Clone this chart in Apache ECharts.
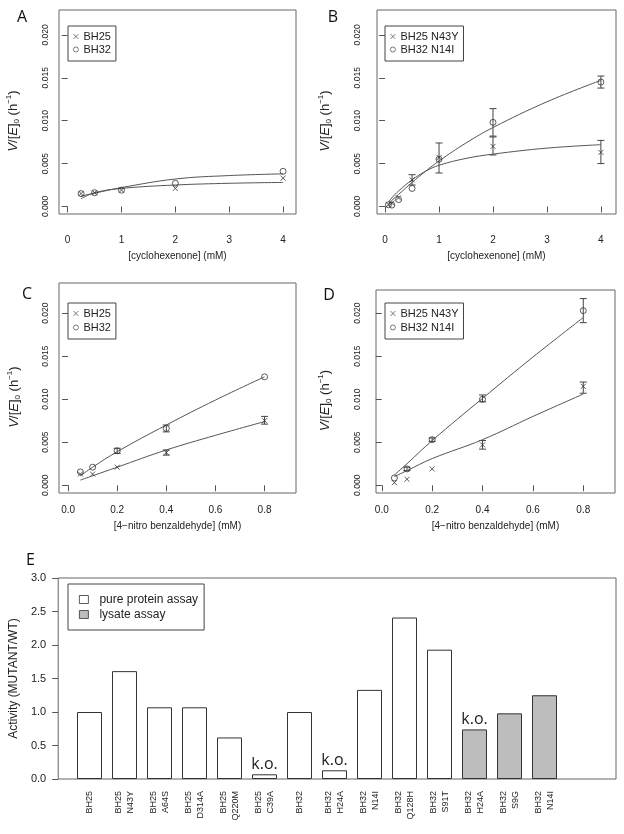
<!DOCTYPE html>
<html>
<head>
<meta charset="utf-8">
<script src="https://cdn.jsdelivr.net/npm/echarts@6/dist/echarts.min.js"></script>
<style>
  html, body { margin: 0; padding: 0; background: #fff; }
  #chart { width: 624px; height: 834px; }
</style>
</head>
<body>
<div id="chart"></div>
<script>
// A: cyclohexenone, wild types
const cycloConc = [0.25, 0.5, 1, 2, 4];
const aBH25 = [0.0015, 0.0016, 0.0019, 0.0021, 0.0033];
const aBH32 = [0.0015, 0.0016, 0.0019, 0.0027, 0.0041];
const aFitX = [0.25, 0.5, 1, 2, 3, 4];
const aFitBH25 = [0.0009, 0.0016, 0.0021, 0.0025, 0.0027, 0.0028];
const aFitBH32 = [0.0012, 0.00155, 0.0022, 0.0032, 0.0036, 0.0038];

// B: cyclohexenone, mutants
const cycloConcB = [0.0625, 0.125, 0.25, 0.5, 1, 2, 4];
const bN43Y = [0.0002, 0.0004, 0.0010, 0.0031, 0.0057, 0.0070, 0.0063];
const bN14I = [0.0002, 0.00016, 0.0008, 0.0021, 0.0055, 0.0098, 0.0145];
const bErrN43Y = [[0.5, 0.0025, 0.0037], [2, 0.0060, 0.0081], [4, 0.0050, 0.0077]];
const bErrN14I = [[1, 0.0039, 0.0074], [2, 0.0082, 0.0114], [4, 0.0138, 0.0152]];
const bFitX = [0.0625, 0.125, 0.25, 0.5, 0.75, 1, 1.5, 2, 3, 4];
const bFitN43Y = [0.0005, 0.0010, 0.0018, 0.0031, 0.0041, 0.0048, 0.0056, 0.0061, 0.0068, 0.0072];
const bFitN14I = [0.0003, 0.0007, 0.0014, 0.0028, 0.0041, 0.0053, 0.0074, 0.0092, 0.0122, 0.0147];

// C: 4-nitro benzaldehyde, wild types
const nitroConc = [0.05, 0.1, 0.2, 0.4, 0.8];
const cBH25 = [0.0013, 0.0013, 0.0021, 0.0038, 0.0075];
const cBH32 = [0.00155, 0.0021, 0.0040, 0.0066, 0.0126];
const cErrBH25 = [[0.4, 0.0035, 0.0041], [0.8, 0.0071, 0.0080]];
const cErrBH32 = [[0.2, 0.0037, 0.0043], [0.4, 0.0062, 0.0070]];
const nitroFitX = [0.05, 0.1, 0.2, 0.4, 0.6, 0.8];
const cFitBH25 = [0.0006, 0.0011, 0.0021, 0.0041, 0.0058, 0.0074];
const cFitBH32 = [0.0011, 0.0021, 0.0039, 0.0070, 0.0099, 0.0126];

// D: 4-nitro benzaldehyde, mutants
const dN43Y = [0.0003, 0.0007, 0.0019, 0.0047, 0.0115];
const dN14I = [0.00085, 0.0019, 0.0053, 0.0100, 0.0203];
const dErrN43Y = [[0.4, 0.0042, 0.0052], [0.8, 0.0107, 0.0120]];
const dErrN14I = [[0.1, 0.0017, 0.0021], [0.2, 0.0051, 0.0055], [0.4, 0.0097, 0.0105], [0.8, 0.0189, 0.0217]];
const dFitN43Y = [0.0010, 0.0017, 0.0031, 0.0053, 0.0080, 0.0106];
const dFitN14I = [0.0012, 0.0025, 0.0052, 0.0101, 0.0149, 0.0195];

// E: activity relative to wild type
const mutants = ['BH25', 'BH25\nN43Y', 'BH25\nA64S', 'BH25\nD314A', 'BH25\nQ220M', 'BH25\nC39A', 'BH32',
  'BH32\nH24A', 'BH32\nN14I', 'BH32\nQ128H', 'BH32\nS91T', 'BH32\nH24A', 'BH32\nS9G', 'BH32\nN14I'];
const pureValues = [1.00, 1.61, 1.07, 1.07, 0.62, 0.07, 1.00, 0.13, 1.33, 2.41, 1.93, '-', '-', '-'];
const lysateValues = ['-', '-', '-', '-', '-', '-', '-', '-', '-', '-', '-', 0.74, 0.98, 1.25];
const koMarks = ['', '', '', '', '', 'k.o.', '', 'k.o.', '', '', '', 'k.o.', '', ''];

const yTicks = [0, 0.005, 0.010, 0.015, 0.020];
const cycloTicks = [0, 1, 2, 3, 4];
const nitroTicks = [0, 0.2, 0.4, 0.6, 0.8];

const FONT = '"Liberation Sans", Arial, Helvetica, sans-serif';
const INK = '#222';
const LINE = '#555';
const CROSS = 'path://M0,0L10,10M10,0L0,10';

const chart = echarts.init(document.getElementById('chart'));

const zip = (xs, ys) => xs.map((x, i) => [x, ys[i]]);

function scatter(name, idx, xs, ys, cross) {
  return {
    name: name, type: 'scatter', xAxisIndex: idx, yAxisIndex: idx,
    data: zip(xs, ys),
    symbol: cross ? CROSS : 'circle',
    symbolSize: cross ? 5 : 6,
    itemStyle: { color: 'transparent', borderColor: '#333', borderWidth: 1 },
    z: 4
  };
}

function fit(idx, xs, ys) {
  return {
    name: 'fit', type: 'line', xAxisIndex: idx, yAxisIndex: idx,
    data: zip(xs, ys), smooth: 0.4, showSymbol: false, silent: true,
    lineStyle: { color: LINE, width: 1 }, z: 3
  };
}

function errorBars(idx, data) {
  return {
    type: 'custom', xAxisIndex: idx, yAxisIndex: idx, data: data, silent: true,
    encode: { x: 0, y: [1, 2] },
    renderItem(params, api) {
      const hi = api.coord([api.value(0), api.value(2)]);
      const lo = api.coord([api.value(0), api.value(1)]);
      const w = 3.5;
      const style = { stroke: '#444', lineWidth: 1 };
      return {
        type: 'group',
        children: [
          { type: 'line', shape: { x1: hi[0], y1: hi[1], x2: lo[0], y2: lo[1] }, style: style },
          { type: 'line', shape: { x1: hi[0] - w, y1: hi[1], x2: hi[0] + w, y2: hi[1] }, style: style },
          { type: 'line', shape: { x1: lo[0] - w, y1: lo[1], x2: lo[0] + w, y2: lo[1] }, style: style }
        ]
      };
    },
    z: 3
  };
}

function xAxisFor(idx, min, max, ticks, name, margin, gap, digits) {
  return {
    type: 'value', gridIndex: idx, min: min, max: max,
    axisLine: { show: false },
    axisTick: { length: 6, customValues: ticks, lineStyle: { color: LINE } },
    axisLabel: { customValues: ticks, margin: margin, fontSize: 10, color: INK, fontFamily: FONT,
      formatter: v => v.toFixed(digits) },
    splitLine: { show: false },
    name: name, nameLocation: 'middle', nameGap: gap,
    nameTextStyle: { fontSize: 10, color: INK, fontFamily: FONT }
  };
}

function yAxisFor(idx, min, max, margin, gap) {
  return {
    type: 'value', gridIndex: idx, min: min, max: max,
    axisLine: { show: false },
    axisTick: { length: 6, customValues: yTicks, lineStyle: { color: LINE } },
    axisLabel: { customValues: yTicks, rotate: 90, margin: margin, fontSize: 8.5, color: INK, fontFamily: FONT,
      formatter: v => v.toFixed(3) },
    splitLine: { show: false },
    name: '{i|V}/[{i|E}]{sub|0} (h{sup|\u22121})', nameLocation: 'middle', nameGap: gap,
    nameTextStyle: {
      fontSize: 13, lineHeight: 16, color: INK, fontFamily: FONT, padding: [0, 18, 0, 0],
      rich: {
        i: { fontSize: 13, fontStyle: 'italic', color: INK, fontFamily: FONT },
        sub: { fontSize: 8, verticalAlign: 'bottom', color: INK, fontFamily: FONT },
        sup: { fontSize: 8, verticalAlign: 'top', color: INK, fontFamily: FONT }
      }
    }
  };
}

function smallLegend(names, left, top, gap, pad) {
  return {
    data: names, orient: 'vertical', left: left, top: top, selectedMode: false,
    itemWidth: 5, itemHeight: 5, itemGap: gap, padding: pad,
    borderColor: '#444', borderWidth: 1,
    itemStyle: { borderWidth: 0.8 },
    textStyle: { fontSize: 11, lineHeight: 13, color: INK, fontFamily: FONT }
  };
}

const boxGrid = { show: true, borderColor: '#666', borderWidth: 1, backgroundColor: 'transparent' };

const barLabel = {
  show: true, position: 'top', distance: 2,
  fontSize: 16, color: INK, fontFamily: '"Open Sans", sans-serif',
  formatter: p => koMarks[p.dataIndex]
};

const option = {
  animation: false,
  backgroundColor: '#fff',
  grid: [
    Object.assign({ left: 59, top: 10, width: 237, height: 204 }, boxGrid),
    Object.assign({ left: 377, top: 10, width: 239, height: 204 }, boxGrid),
    Object.assign({ left: 59, top: 283, width: 237, height: 210 }, boxGrid),
    Object.assign({ left: 376, top: 290, width: 239, height: 203 }, boxGrid),
    Object.assign({ left: 57, top: 578, width: 559, height: 201 }, boxGrid),
    { left: 72, top: 578, width: 490, height: 201, show: false }
  ],
  xAxis: [
    xAxisFor(0, -0.16, 4.24, cycloTicks, '[cyclohexenone] (mM)', 21, 37, 0),
    xAxisFor(1, -0.15, 4.28, cycloTicks, '[cyclohexenone] (mM)', 21, 37, 0),
    xAxisFor(2, -0.037, 0.928, nitroTicks, '[4\u2212nitro benzaldehyde] (mM)', 12, 28, 1),
    xAxisFor(3, -0.023, 0.926, nitroTicks, '[4\u2212nitro benzaldehyde] (mM)', 12, 28, 1),
    { type: 'value', gridIndex: 4, show: false, min: 0, max: 1 },
    {
      type: 'category', gridIndex: 5, data: mutants,
      axisLine: { show: false }, axisTick: { show: false },
      axisLabel: { interval: 0, rotate: 90, margin: 12, fontSize: 9, lineHeight: 12, color: INK, fontFamily: FONT }
    }
  ],
  yAxis: [
    yAxisFor(0, -0.00088, 0.0229, 9, 38),
    yAxisFor(1, -0.00088, 0.0229, 15, 44),
    yAxisFor(2, -0.0009, 0.0235, 9, 37),
    yAxisFor(3, -0.0009, 0.0227, 14, 43),
    {
      type: 'value', gridIndex: 4, min: 0, max: 3, interval: 0.5,
      axisLine: { show: false },
      axisTick: { length: 6, lineStyle: { color: LINE } },
      axisLabel: { margin: 12, fontSize: 11, color: INK, fontFamily: FONT, formatter: v => v.toFixed(1) },
      splitLine: { show: false },
      name: 'Activity (MUTANT/WT)', nameLocation: 'middle', nameGap: 38,
      nameTextStyle: { fontSize: 12, color: INK, fontFamily: FONT }
    },
    { type: 'value', gridIndex: 5, min: 0, max: 3, show: false }
  ],
  legend: [
    smallLegend(['BH25', 'BH32'], 68, 26, 0, [4, 5, 5, 5]),
    smallLegend(['BH25 N43Y', 'BH32 N14I'], 385, 26, 0, [4, 5, 5, 5]),
    smallLegend(['BH25', 'BH32'], 68, 303, 1, [4, 5, 5, 5]),
    smallLegend(['BH25 N43Y', 'BH32 N14I'], 385, 303, 1, [4, 5, 5, 5]),
    {
      data: ['pure protein assay', 'lysate assay'], orient: 'vertical', left: 68, top: 584,
      selectedMode: false, icon: 'rect', itemWidth: 9, itemHeight: 8, itemGap: 0,
      padding: [8, 6, 8, 11], borderColor: '#444', borderWidth: 1,
      itemStyle: { borderWidth: 0.8 },
      textStyle: { fontSize: 12, lineHeight: 15, color: INK, fontFamily: FONT, padding: [0, 0, 0, 6] }
    }
  ],
  graphic: [
    ['A', 22, 17], ['B', 333, 17], ['C', 27, 294], ['D', 329, 295], ['E', 30.5, 560]
  ].map(([t, x, y]) => ({
    type: 'text', x: x, y: y,
    style: { text: t, fill: '#111', font: '16px "Open Sans", sans-serif', textAlign: 'center', textVerticalAlign: 'middle' }
  })),
  series: [
    scatter('BH25', 0, cycloConc, aBH25, true),
    scatter('BH32', 0, cycloConc, aBH32, false),
    fit(0, aFitX, aFitBH25),
    fit(0, aFitX, aFitBH32),

    scatter('BH25 N43Y', 1, cycloConcB, bN43Y, true),
    scatter('BH32 N14I', 1, cycloConcB, bN14I, false),
    errorBars(1, bErrN43Y),
    errorBars(1, bErrN14I),
    fit(1, bFitX, bFitN43Y),
    fit(1, bFitX, bFitN14I),

    scatter('BH25', 2, nitroConc, cBH25, true),
    scatter('BH32', 2, nitroConc, cBH32, false),
    errorBars(2, cErrBH25),
    errorBars(2, cErrBH32),
    fit(2, nitroFitX, cFitBH25),
    fit(2, nitroFitX, cFitBH32),

    scatter('BH25 N43Y', 3, nitroConc, dN43Y, true),
    scatter('BH32 N14I', 3, nitroConc, dN14I, false),
    errorBars(3, dErrN43Y),
    errorBars(3, dErrN14I),
    fit(3, nitroFitX, dFitN43Y),
    fit(3, nitroFitX, dFitN14I),

    {
      name: 'pure protein assay', type: 'bar', xAxisIndex: 5, yAxisIndex: 5,
      data: pureValues, barWidth: 25, barGap: '-100%',
      itemStyle: { color: '#fff', borderColor: '#333', borderWidth: 1 },
      label: barLabel
    },
    {
      name: 'lysate assay', type: 'bar', xAxisIndex: 5, yAxisIndex: 5,
      data: lysateValues, barWidth: 25, barGap: '-100%',
      itemStyle: { color: '#bdbdbd', borderColor: '#333', borderWidth: 1 },
      label: barLabel
    }
  ]
};

chart.setOption(option);
</script>
</body>
</html>
